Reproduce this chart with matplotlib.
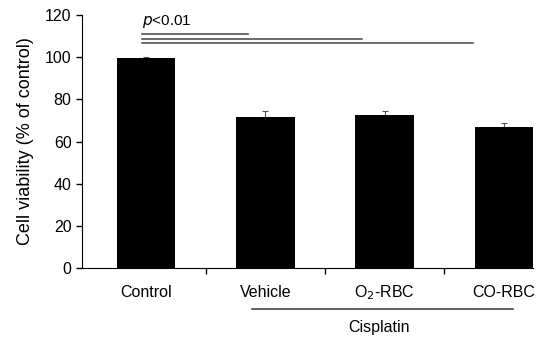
import matplotlib
matplotlib.use('Agg')
import matplotlib.pyplot as plt

plt.rcParams['font.family'] = ['Liberation Sans', 'DejaVu Sans']

# data
groups = ['Control', 'Vehicle', 'O$_2$-RBC', 'CO-RBC']
viability = [99.5, 71.5, 72.5, 67.0]
sem = [0.5, 3.0, 2.0, 2.0]
# significance bars: (start, end, height)
sig_lines = [(-0.04, 0.85, 110.8), (-0.04, 1.81, 108.7), (-0.04, 2.74, 106.6)]

fig = plt.figure(figsize=(5.5, 3.41), dpi=100)
ax = fig.add_axes([0.149, 0.214, 0.82, 0.742])

x = list(range(len(groups)))
ax.bar(x, viability, width=0.49, color='black', zorder=2)
ax.errorbar(x, viability, yerr=[[0]*len(sem), sem], fmt='none',
            ecolor='#555555', elinewidth=0.8, capsize=2, capthick=0.8, zorder=1)

for x0, x1, h in sig_lines:
    ax.plot([x0, x1], [h, h], color='#444444', lw=1.1, clip_on=False)
ax.text(-0.04, 116.8, r'$\it{p}$<0.01', fontsize=11, va='center', ha='left')

ax.set_xlim(-0.54, 3.245)
ax.set_ylim(0, 120)
ax.set_yticks(range(0, 121, 20))
ax.set_xticks([0.5, 1.5, 2.5])
ax.set_xticklabels([])
ax.tick_params(axis='both', direction='out', length=4, width=1, labelsize=11.5)
for s in ['top', 'right']:
    ax.spines[s].set_visible(False)
ax.set_ylabel('Cell viability (% of control)', fontsize=13, labelpad=8)

for xi, g in zip(x, groups):
    ax.text(xi, -11.5, g, ha='center', va='center', fontsize=11.5)

# cisplatin bracket under the treated groups
ax.plot([0.89, 3.08], [-19.2, -19.2], color='#333333', lw=1.1, clip_on=False)
ax.text(1.95, -28.3, 'Cisplatin', ha='center', va='center', fontsize=11.5)

plt.savefig('out.png', dpi=100)
